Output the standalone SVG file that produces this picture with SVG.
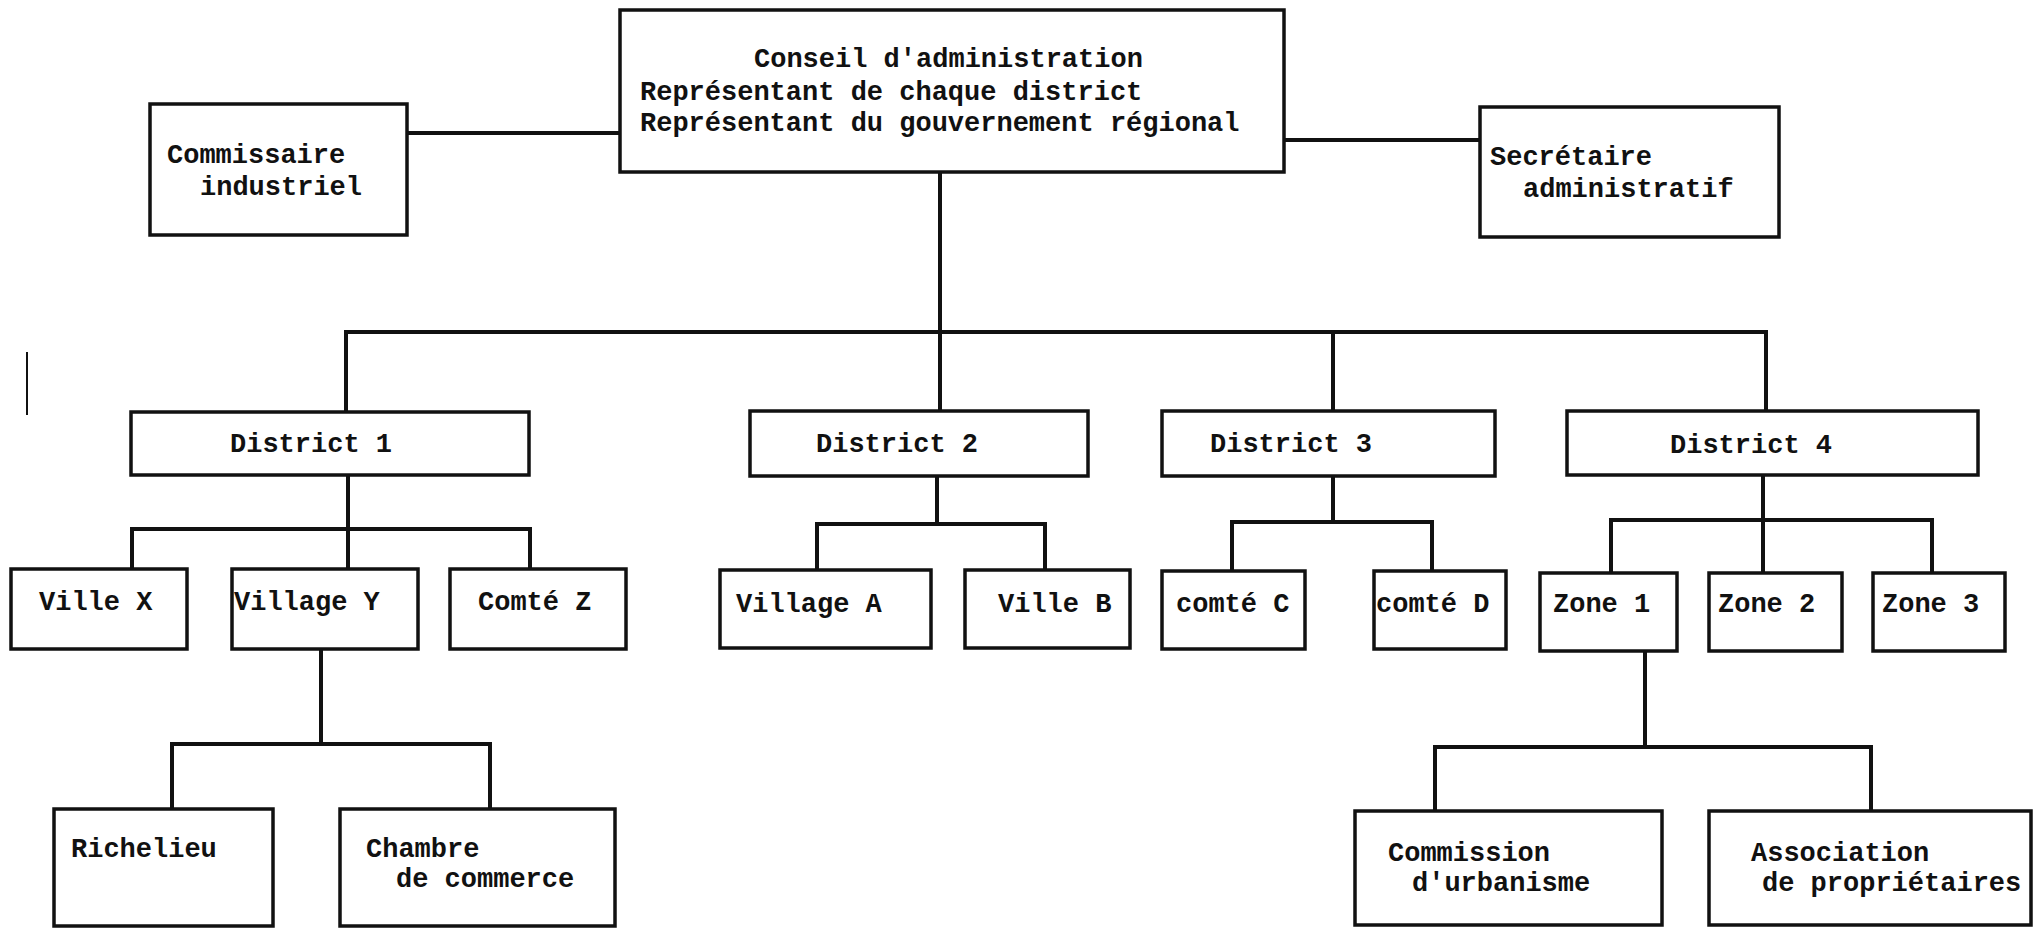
<svg xmlns="http://www.w3.org/2000/svg" width="2036" height="928" viewBox="0 0 2036 928">
<style>
.box{fill:#fff;stroke:#111;stroke-width:3.5}
.con{fill:none;stroke:#111;stroke-width:4;stroke-linecap:square}
text{font-family:"Liberation Mono","Courier New",monospace;font-weight:bold;font-size:27px;fill:#111}
</style>
<rect width="2036" height="928" fill="#fff"/>
<g id="connectors">
<path class="con" d="M407,133 H620"/>
<path class="con" d="M1284,140 H1480"/>
<path class="con" d="M940,172 V332"/>
<path class="con" d="M346,332 H1766"/>
<path class="con" d="M346,332 V412"/>
<path class="con" d="M940,332 V411"/>
<path class="con" d="M1333,332 V411"/>
<path class="con" d="M1766,332 V411"/>
<path class="con" d="M348,475 V529 M132,529 H530 M132,529 V569 M348,529 V569 M530,529 V569"/>
<path class="con" d="M937,476 V524 M817,524 H1045 M817,524 V570 M1045,524 V570"/>
<path class="con" d="M1333,476 V522 M1232,522 H1432 M1232,522 V571 M1432,522 V571"/>
<path class="con" d="M1763,475 V520 M1611,520 H1932 M1611,520 V573 M1763,520 V573 M1932,520 V573"/>
<path class="con" d="M321,649 V744 M172,744 H490 M172,744 V809 M490,744 V809"/>
<path class="con" d="M1645,651 V747 M1435,747 H1871 M1435,747 V811 M1871,747 V811"/>
<path d="M27,352 V415" stroke="#111" stroke-width="2"/>
</g>
<g id="conseil"><rect class="box" x="620" y="10" width="664" height="162"/>
<text x="754" y="67">Conseil d'administration</text>
<text x="640" y="100">Représentant de chaque district</text>
<text x="640" y="131">Représentant du gouvernement régional</text></g>
<g id="commissaire"><rect class="box" x="150" y="104" width="257" height="131"/>
<text x="167" y="163">Commissaire</text><text x="200" y="195">industriel</text></g>
<g id="secretaire"><rect class="box" x="1480" y="107" width="299" height="130"/>
<text x="1490" y="165">Secrétaire</text><text x="1523" y="197">administratif</text></g>
<g id="district1"><rect class="box" x="131" y="412" width="398" height="63"/><text x="230" y="452">District 1</text></g>
<g id="district2"><rect class="box" x="750" y="411" width="338" height="65"/><text x="816" y="452">District 2</text></g>
<g id="district3"><rect class="box" x="1162" y="411" width="333" height="65"/><text x="1210" y="452">District 3</text></g>
<g id="district4"><rect class="box" x="1567" y="411" width="411" height="64"/><text x="1670" y="453">District 4</text></g>
<g id="villeX"><rect class="box" x="11" y="569" width="176" height="80"/><text x="39" y="610">Ville X</text></g>
<g id="villageY"><rect class="box" x="232" y="569" width="186" height="80"/><text x="234" y="610">Village Y</text></g>
<g id="comteZ"><rect class="box" x="450" y="569" width="176" height="80"/><text x="478" y="610">Comté Z</text></g>
<g id="villageA"><rect class="box" x="720" y="570" width="211" height="78"/><text x="736" y="612">Village A</text></g>
<g id="villeB"><rect class="box" x="965" y="570" width="165" height="78"/><text x="998" y="612">Ville B</text></g>
<g id="comteC"><rect class="box" x="1162" y="571" width="143" height="78"/><text x="1176" y="612">comté C</text></g>
<g id="comteD"><rect class="box" x="1374" y="571" width="132" height="78"/><text x="1376" y="612">comté D</text></g>
<g id="zone1"><rect class="box" x="1540" y="573" width="137" height="78"/><text x="1553" y="612">Zone 1</text></g>
<g id="zone2"><rect class="box" x="1709" y="573" width="133" height="78"/><text x="1718" y="612">Zone 2</text></g>
<g id="zone3"><rect class="box" x="1873" y="573" width="132" height="78"/><text x="1882" y="612">Zone 3</text></g>
<g id="richelieu"><rect class="box" x="54" y="809" width="219" height="117"/><text x="71" y="857">Richelieu</text></g>
<g id="chambre"><rect class="box" x="340" y="809" width="275" height="117"/><text x="366" y="857">Chambre</text><text x="396" y="887">de commerce</text></g>
<g id="commission"><rect class="box" x="1355" y="811" width="307" height="114"/><text x="1388" y="861">Commission</text><text x="1412" y="891">d'urbanisme</text></g>
<g id="association"><rect class="box" x="1709" y="811" width="322" height="114"/><text x="1751" y="861">Association</text><text x="1762" y="891">de propriétaires</text></g>
</svg>
